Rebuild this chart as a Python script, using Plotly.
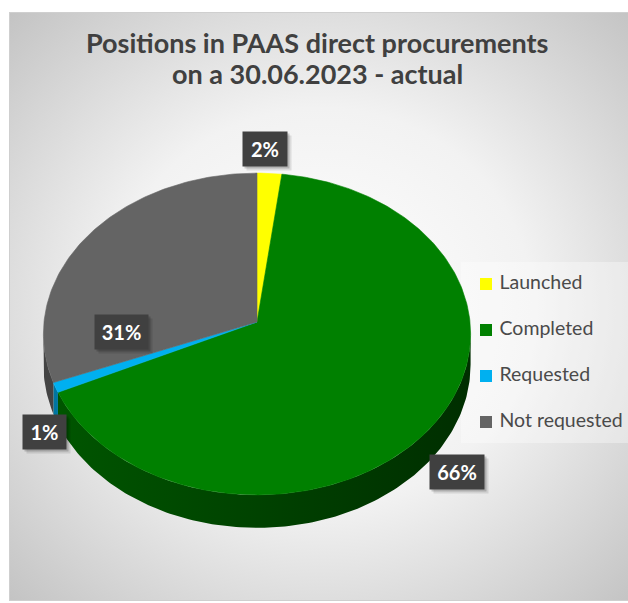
import base64
import numpy as np
import plotly.graph_objects as go

# ---- data -------------------------------------------------------------
categories = ["Launched", "Completed", "Requested", "Not requested"]
shares = [2, 66, 1, 31]                      # percent of positions
top_colors = ["#FFFF00", "#008000", "#00B0F0", "#646464"]
base_rgb = [(255, 255, 0), (0, 128, 0), (0, 176, 240), (100, 100, 100)]

title_lines = ["Positions in PAAS direct procurements", "on a 30.06.2023 - actual"]

# ---- canvas / pie geometry (pixel-like axes, y grows downward) ---------
W, H = 628, 603
CX, CY = 257, 322          # pie centre on the canvas
RX, RY = 213, 160          # horizontal / vertical radius factors
PERSP = 0.0745             # perspective strength (far edge appears smaller)
DEPTH = 30.5               # thickness of the pie

def project(theta, r=1.0, drop=0.0):
    """theta: clockwise from 12 o'clock (radians)."""
    u = r * np.sin(theta)
    v = -r * np.cos(theta)
    d = 1.0 - PERSP * v
    return CX + RX * u / d, CY + (RY * v + drop) / d

def shade(rgb, f):
    return "rgb(%d,%d,%d)" % tuple(int(round(c * f)) for c in rgb)

total = float(sum(shares))
bounds = np.concatenate([[0.0], np.cumsum(shares) / total * 2 * np.pi])

fig = go.Figure()

# ---- side walls: only the front part between the two silhouette points --
front_lo = np.arccos(-PERSP)
front_hi = 2 * np.pi - front_lo
for i in range(len(shares)):
    a0, a1 = max(bounds[i], front_lo), min(bounds[i + 1], front_hi)
    if a1 <= a0:
        continue
    t = np.linspace(a0, a1, max(4, int(np.degrees(a1 - a0))))
    xt, yt = project(t)
    xb, yb = project(t[::-1], drop=DEPTH)
    # light from the left: brighter on the left, darker toward the right
    f_left = 0.52 - 0.16 * np.sin(a1)
    f_right = 0.52 - 0.16 * np.sin(a0)
    fig.add_trace(go.Scatter(
        x=np.concatenate([xt, xb, xt[:1]]), y=np.concatenate([yt, yb, yt[:1]]),
        mode="lines", fill="toself",
        fillgradient=dict(type="horizontal",
                          colorscale=[[0, shade(base_rgb[i], f_left)],
                                      [1, shade(base_rgb[i], f_right)]]),
        line=dict(width=0), hoverinfo="skip", showlegend=False))

# ---- top faces ---------------------------------------------------------
for i, name in enumerate(categories):
    t = np.linspace(bounds[i], bounds[i + 1], max(3, int(shares[i] * 4)))
    xs, ys = project(t)
    fig.add_trace(go.Scatter(
        x=np.concatenate([[CX], xs, [CX]]), y=np.concatenate([[CY], ys, [CY]]),
        mode="lines", fill="toself", fillcolor=top_colors[i],
        line=dict(color=top_colors[i], width=0.6),
        name=name, hoverinfo="name", showlegend=False))

# ---- data labels -------------------------------------------------------
label_boxes = [          # centre of each label box and its size
    dict(x=265, y=149, w=44, h=34),
    dict(x=457, y=472, w=54, h=34),
    dict(x=44, y=432, w=43, h=34),
    dict(x=121, y=332, w=53, h=34),
]
annotations = []
for share, box in zip(shares, label_boxes):
    for off, alpha in ((4, 0.10), (2, 0.18)):
        annotations.append(dict(
            x=box["x"] + off, y=box["y"] + off, xref="x", yref="y",
            text="", showarrow=False, width=box["w"], height=box["h"],
            borderpad=0, bgcolor="rgba(0,0,0,%.2f)" % alpha))
    annotations.append(dict(
        x=box["x"], y=box["y"], xref="x", yref="y",
        text="<b>%d%%</b>" % share, showarrow=False,
        width=box["w"], height=box["h"], borderpad=0,
        bgcolor="#404040", font=dict(family="Lato, 'Open Sans', sans-serif",
                                     size=20, color="#FFFFFF")))

# ---- title -------------------------------------------------------------
for k, line in enumerate(title_lines):
    annotations.append(dict(
        x=317, y=42 + 31 * k, xref="x", yref="y", text="<b>%s</b>" % line,
        showarrow=False, xanchor="center", yanchor="middle",
        font=dict(family="Lato, sans-serif", size=27, color="#404040")))

# ---- legend ------------------------------------------------------------
LEG_X, LEG_Y0, LEG_DY = 486, 284, 46
leg_y = [LEG_Y0 + LEG_DY * k for k in range(len(categories))]
fig.add_trace(go.Scatter(
    x=[LEG_X] * len(categories), y=leg_y, mode="markers+text",
    marker=dict(symbol="square", size=12, color=top_colors,
                line=dict(width=0)),
    text=["&nbsp;" + c for c in categories], textposition="middle right",
    textfont=dict(family="Lato, 'Open Sans', sans-serif", size=19.5,
                  color="#4a4a4a"),
    hoverinfo="skip", showlegend=False, cliponaxis=False))

# ---- background: framed panel with radial gradient ---------------------
FX0, FY0, FX1, FY1 = 9, 12, 634, 601
fw, fh = FX1 - FX0, FY1 - FY0
svg = (
    '<svg xmlns="http://www.w3.org/2000/svg" width="%d" height="%d" '
    'viewBox="0 0 %d %d" preserveAspectRatio="none">'
    '<defs><radialGradient id="g" cx="50%%" cy="50%%" r="75%%">'
    '<stop offset="0" stop-color="#ffffff"/>'
    '<stop offset="0.45" stop-color="#f2f2f2"/>'
    '<stop offset="1" stop-color="#bebebe"/></radialGradient></defs>'
    '<rect x="0.5" y="0.5" width="%d" height="%d" fill="url(#g)" '
    'stroke="#cfcfcf" stroke-width="1"/>'
    '<rect x="%d" y="%d" width="%d" height="%d" fill="#ffffff" fill-opacity="0.35"/>'
    '</svg>' % (fw, fh, fw, fh, fw - 1, fh - 1, 461 - FX0, 262 - FY0, fw, 443 - 262)
)
src = "data:image/svg+xml;base64," + base64.b64encode(svg.encode()).decode()

fig.update_layout(
    width=W, height=H, margin=dict(l=0, r=0, t=0, b=0),
    paper_bgcolor="#FFFFFF", plot_bgcolor="rgba(0,0,0,0)",
    showlegend=False, annotations=annotations,
    xaxis=dict(range=[0, W], visible=False, fixedrange=True),
    yaxis=dict(range=[H, 0], visible=False, fixedrange=True),
    images=[dict(source=src, xref="x", yref="y", x=FX0, y=FY0,
                 sizex=fw, sizey=fh, sizing="stretch", layer="below",
                 xanchor="left", yanchor="top")],
)

fig.write_html("out.html")
